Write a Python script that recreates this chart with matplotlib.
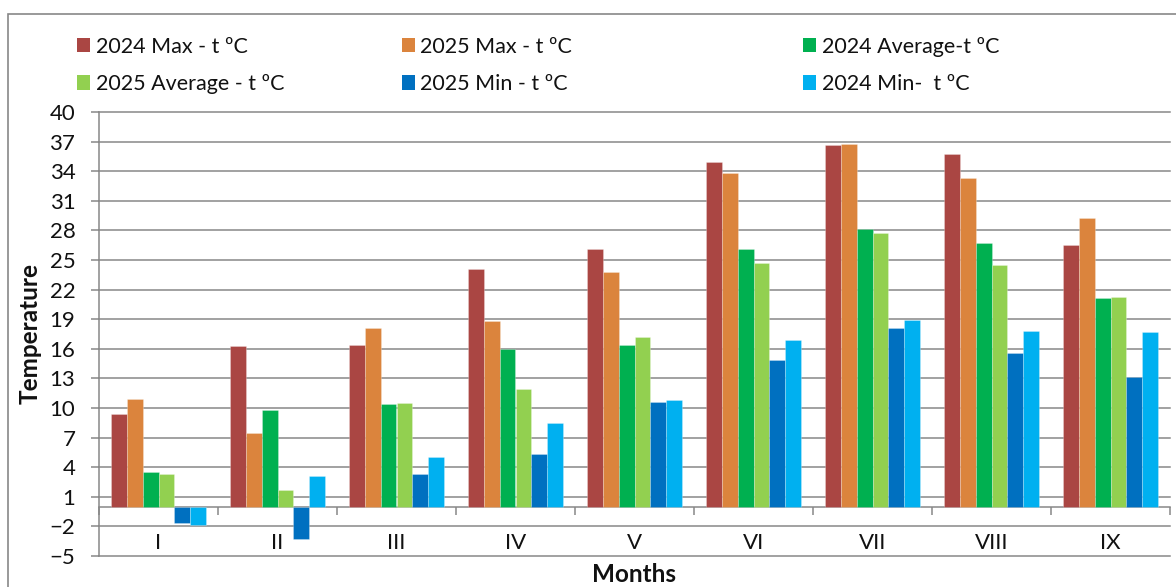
import numpy as np
import matplotlib
matplotlib.use("Agg")
import matplotlib.pyplot as plt
from matplotlib.patches import Rectangle

plt.rcParams['font.family'] = ['Lato', 'DejaVu Sans']

months = ["I", "II", "III", "IV", "V", "VI", "VII", "VIII", "IX"]

max_2024 = [9.4, 16.3, 16.4, 24.1, 26.1, 34.9, 36.7, 35.7, 26.5]
max_2025 = [10.9, 7.5, 18.1, 18.8, 23.8, 33.8, 36.8, 33.3, 29.3]
avg_2024 = [3.5, 9.8, 10.4, 16.0, 16.4, 26.1, 28.1, 26.7, 21.1]
avg_2025 = [3.3, 1.7, 10.5, 11.9, 17.2, 24.7, 27.7, 24.5, 21.2]
min_2025 = [-1.7, -3.3, 3.3, 5.3, 10.6, 14.9, 18.1, 15.6, 13.1]
min_2024 = [-1.9, 3.1, 5.0, 8.5, 10.8, 16.9, 18.9, 17.8, 17.7]

series_names = ["2024 Max - t ºC", "2025 Max - t ºC", "2024 Average-t ºC",
                "2025 Average - t ºC", "2025 Min - t ºC", "2024 Min-  t ºC"]
series_values = [max_2024, max_2025, avg_2024, avg_2025, min_2025, min_2024]
series_colors = ["#AA4643", "#DB843D", "#00B050", "#92D050", "#0070C0", "#00B0F0"]

y_ticks = list(range(-5, 41, 3))

W, H = 1176, 587
fig = plt.figure(figsize=(W / 100, H / 100), dpi=100)

def fx(px):
    return px / W

def fy(py):
    return 1 - py / H

grid_gray = "#878787"

# outer chart frame
fig.patches.append(Rectangle((fx(8), fy(600)), fx(1200), fy(14) - fy(600),
                             transform=fig.transFigure, fill=False,
                             edgecolor=grid_gray, linewidth=1.2))

ax = fig.add_axes([fx(99), fy(556), fx(1170) - fx(99), fy(112) - fy(556)])

x = np.arange(1, len(months) + 1)
n = len(series_values)
bw = 0.8 / n
for i, (vals, col) in enumerate(zip(series_values, series_colors)):
    ax.bar(x + (i - (n - 1) / 2) * bw, vals, width=bw, color=col,
           edgecolor=(1, 1, 1, 0.35), linewidth=0.5, zorder=3)

ax.set_xlim(0.5, len(months) + 0.5)
ax.set_ylim(-5, 40)
ax.set_yticks(y_ticks)
ax.yaxis.grid(True, color=grid_gray, linewidth=1.1)
for gl in ax.get_ygridlines():
    gl.set_clip_on(False)
ax.set_axisbelow(True)

for side in ["top", "right"]:
    ax.spines[side].set_visible(False)
ax.spines["left"].set_color(grid_gray)
ax.spines["left"].set_linewidth(1.1)
ax.spines["bottom"].set_position(("data", 0))
ax.spines["bottom"].set_color(grid_gray)
ax.spines["bottom"].set_linewidth(1.1)

ax.set_xticks(x)
ax.set_xticklabels(months)
ax.set_xticks(np.arange(0.5, len(months) + 1), minor=True)
ax.tick_params(axis="x", which="major", length=0, pad=19, labelsize=16,
               labelcolor="#111111")
ax.tick_params(axis="x", which="minor", length=6, width=1.1, color=grid_gray,
               direction="out")
ax.tick_params(axis="y", length=6, width=1.1, color=grid_gray, pad=11,
               labelsize=16, labelcolor="#111111")

fig.text(fx(30), fy(334), "Temperature", rotation=90, ha="center", va="center",
         fontsize=17.5, fontweight="bold", color="#111111")
fig.text(fx(634), fy(575), "Months", ha="center", va="center",
         fontsize=17.5, fontweight="bold", color="#111111")

# legend laid out in two rows of three
sq_x = [77, 402, 803]
txt_x = [95.5, 420.5, 822]
row_sq = [(37.5, 52), (75, 90)]
row_base = [53.3, 90]
for k, (name, col) in enumerate(zip(series_names, series_colors)):
    r, c = divmod(k, 3)
    y0, y1 = row_sq[r]
    fig.patches.append(Rectangle((fx(sq_x[c]), fy(y1)), fx(12.5), fy(y0) - fy(y1),
                                 transform=fig.transFigure, facecolor=col,
                                 edgecolor="none"))
    fig.text(fx(txt_x[c]), fy(row_base[r]), name, ha="left", va="baseline",
             fontsize=15.5, color="#111111")

fig.savefig("out.png", dpi=100)
